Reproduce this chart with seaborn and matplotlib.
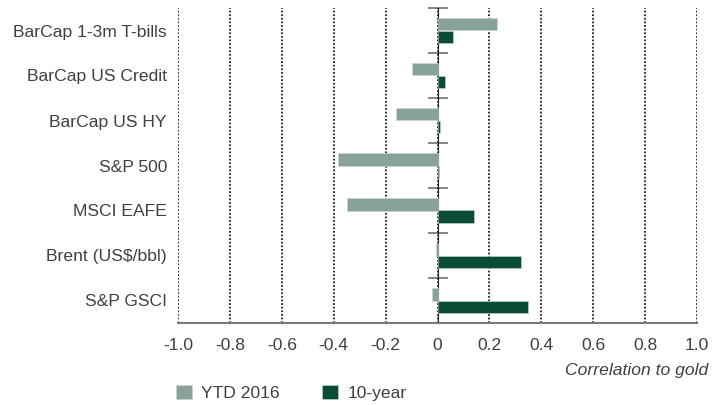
"""Correlation to gold: YTD 2016 vs 10-year, horizontal grouped bars."""
import pandas as pd
import matplotlib.pyplot as plt
import seaborn as sns

assets = ["BarCap 1-3m T-bills", "BarCap US Credit", "BarCap US HY",
          "S&P 500", "MSCI EAFE", "Brent (US$/bbl)", "S&P GSCI"]
ytd_2016 = [0.23, -0.10, -0.16, -0.385, -0.35, -0.005, -0.02]
ten_year = [0.06, 0.03, 0.01, 0.007, 0.14, 0.32, 0.35]
series_names = ["YTD 2016", "10-year"]
x_ticks = [-1.0, -0.8, -0.6, -0.4, -0.2, 0, 0.2, 0.4, 0.6, 0.8, 1.0]
x_ticklabels = ["-1.0", "-0.8", "-0.6", "-0.4", "-0.2", "0",
                "0.2", "0.4", "0.6", "0.8", "1.0"]

df = pd.DataFrame({"asset": assets * 2,
                   "value": ytd_2016 + ten_year,
                   "series": [series_names[0]] * len(assets)
                   + [series_names[1]] * len(assets)})

sns.set_style("white")
plt.rcParams["font.family"] = ["Liberation Sans", "DejaVu Sans"]
TXT = "#404040"
FS = 12.6

fig = plt.figure(figsize=(7.25, 4.05), dpi=100)
ax = fig.add_axes([178 / 725, 1 - 323 / 405, (697 - 178) / 725, (323 - 8) / 405])

sns.barplot(data=df, x="value", y="asset", hue="series", orient="h",
            palette=["#84a697", "#00573b"], width=0.56,
            edgecolor="#c9d9d1", linewidth=0.4, ax=ax, zorder=3)

ax.set_xlim(-1, 1)
ax.set_ylim(6.5, -0.5)
ax.set_xticks(x_ticks)
ax.set_xticklabels(x_ticklabels)
ax.set_xlabel("")
ax.set_ylabel("")

# dotted vertical gridlines
ax.xaxis.grid(True, linestyle=(0, (1, 1)), color="#222222", linewidth=1.3, zorder=0)
ax.yaxis.grid(False)
ax.set_axisbelow(True)

for s in ["top", "right", "left"]:
    ax.spines[s].set_visible(False)
ax.spines["bottom"].set_color("#7a7a7a")
ax.spines["bottom"].set_linewidth(1.5)
ax.tick_params(axis="x", direction="out", length=5, width=1.3, color="#6a6a6a",
               labelsize=FS, labelcolor=TXT, pad=6)
ax.tick_params(axis="y", length=0, labelsize=FS, labelcolor=TXT, pad=8)

# zero line with category separators
zero = ax.secondary_yaxis(0.5)
zero.spines["left"].set_color("#7a7a7a")
zero.spines["left"].set_linewidth(1.5)
zero.spines["left"].set_zorder(5)
zero.set_yticks([i - 0.5 for i in range(len(assets) + 1)])
zero.set_yticklabels([])
zero.tick_params(axis="y", direction="inout", length=15, width=1.3, color="#7a7a7a")

fig.text(708 / 725, 1 - 371 / 405, "Correlation to gold", ha="right", va="center",
         fontsize=FS, style="italic", color=TXT)

handles, labels = ax.get_legend_handles_labels()
ax.legend(handles, labels, ncol=2, frameon=False, loc="center left",
          bbox_to_anchor=(176 / 725, 1 - 393 / 405), bbox_transform=fig.transFigure,
          borderpad=0, borderaxespad=0, handlelength=0.9, handleheight=0.9,
          handletextpad=0.55, columnspacing=2.4, fontsize=FS, labelcolor=TXT)

fig.savefig("out.png", dpi=100)
